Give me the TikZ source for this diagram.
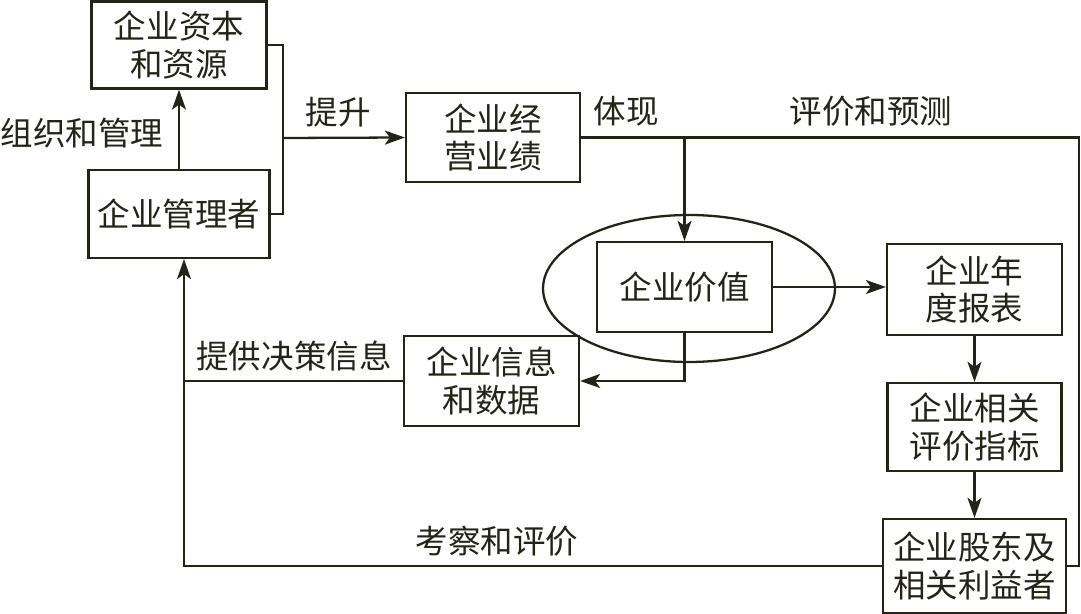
\documentclass[tikz,border=0pt]{standalone}
\usepackage{fontspec}
\setmainfont{Noto Sans CJK SC}
\usetikzlibrary{arrows.meta, shapes.geometric, calc}
\definecolor{ink}{RGB}{35,35,22}

\begin{document}
\begin{tikzpicture}[x=0.02cm, y=-0.02cm, line width=1.3pt, color=ink,
    box/.style={draw, rectangle, inner sep=0pt, align=center, font=\fontsize{18.5}{21.5}\selectfont},
    lab/.style={inner sep=0pt, font=\fontsize{18.5}{21.5}\selectfont},
    arr/.style={-{Stealth[length=4mm, width=2.8mm, inset=1mm]}}]
    \useasboundingbox (0,0) rectangle (1081,614);

    % Boxes
    \node[box, minimum width=3.5cm, minimum height=1.74cm] (cap) at (179,45) {企业资本\\和资源};
    \node[box, minimum width=3.62cm, minimum height=1.76cm] (mgr) at (179,214) {企业管理者};
    \node[box, minimum width=3.48cm, minimum height=1.78cm] (perf) at (493,137.5) {企业经\\营业绩};
    \node[ellipse, draw, minimum width=5.84cm, minimum height=2.94cm] (ell) at (689,288.5) {};
    \node[box, minimum width=3.5cm, minimum height=1.8cm] (val) at (684.5,287) {企业价值};
    \node[box, minimum width=3.5cm, minimum height=1.82cm] (rep) at (974.5,289.5) {企业年\\度报表};
    \node[box, minimum width=3.48cm, minimum height=1.76cm] (idx) at (974.5,427) {企业相关\\评价指标};
    \node[box, minimum width=3.66cm, minimum height=1.88cm] (hold) at (974.5,566) {企业股东及\\相关利益者};
    \node[box, minimum width=3.5cm, minimum height=1.8cm] (info) at (491.5,381) {企业信息\\和数据};

    % Helper points
    \coordinate (jn) at (283,138);
    \coordinate (rt) at (1079,136);
    \coordinate (lft) at (184,0);

    % Connectors
    \draw[arr] (mgr) -- (cap);
    \draw (cap.east) -| (jn) |- (mgr.east);
    \draw[arr] (jn) -- (perf.west);
    \draw (perf.east) -- (perf.east -| rt) |- (hold.east);
    \draw[arr] (perf.east -| val.north) -- (val.north);
    \draw[arr] (val.east) -- (val.east -| rep.west);
    \draw[arr] (rep) -- (idx);
    \draw[arr] (idx) -- (hold);
    \draw[arr] (val.south) |- (info.east);
    \draw[arr] (hold.west) -| (lft |- mgr.south);
    \draw (info.west) -- (info.west -| lft);

    % Labels
    \node[lab] (orgl) at (82,133) {组织和管理};
    \node[lab] (upl) at (338,112) {提升};
    \node[lab] (embl) at (626,111) {体现};
    \node[lab] (evpl) at (871,111) {评价和预测};
    \node[lab] (decl) at (294,356) {提供决策信息};
    \node[lab] (revl) at (497,541) {考察和评价};
\end{tikzpicture}
\end{document}
